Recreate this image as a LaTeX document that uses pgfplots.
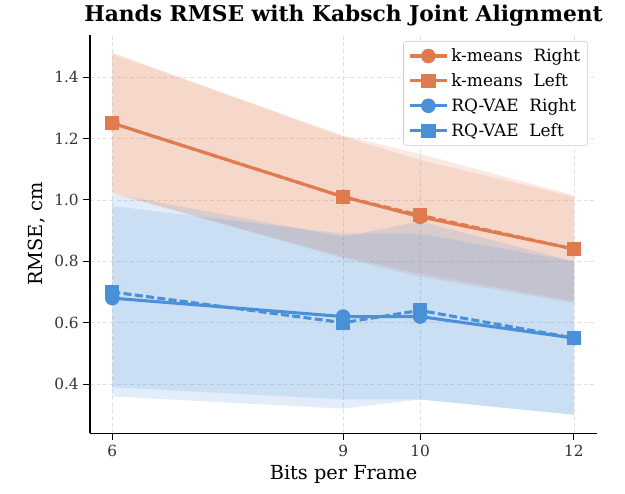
\documentclass[border=0pt]{standalone}
\usepackage{fontspec}
\setmainfont{DejaVu Serif}
\usepackage{pgfplots}
\usepackage{pgfplotstable}
\pgfplotsset{compat=1.18}
\usepgfplotslibrary{fillbetween}
\definecolor{korange}{HTML}{E07A4F}
\definecolor{kblue}{HTML}{4A90D9}

% x mean lo hi
\pgfplotstableread{
x mean lo hi
6 1.25 1.02 1.48
9 1.01 0.815 1.205
10 0.945 0.76 1.13
12 0.84 0.67 1.01
}\kmR
\pgfplotstableread{
x mean lo hi
6 1.25 1.025 1.475
9 1.01 0.81 1.21
10 0.95 0.75 1.15
12 0.84 0.665 1.015
}\kmL
\pgfplotstableread{
x mean lo hi
6 0.68 0.39 0.98
9 0.62 0.35 0.89
10 0.62 0.35 0.89
12 0.55 0.30 0.80
}\rqR
\pgfplotstableread{
x mean lo hi
6 0.70 0.36 1.02
9 0.60 0.32 0.88
10 0.64 0.35 0.93
12 0.55 0.30 0.80
}\rqL

\begin{document}
\begin{tikzpicture}
\begin{axis}[
  name=ax,
  scale only axis,
  width=380pt, height=298.5pt,
  xmin=5.71, xmax=12.3, ymin=0.24, ymax=1.537,
  axis x line*=bottom, axis y line*=left,
  axis line style={-, line width=0.9pt},
  tick align=outside, major tick length=5pt,
  tick style={black, line width=0.7pt},
  xtick={6,9,10,12},
  ytick={0.4,0.6,0.8,1.0,1.2,1.4},
  yticklabel style={/pgf/number format/fixed, /pgf/number format/precision=1, /pgf/number format/fixed zerofill},
  /pgf/number format/assume math mode=true,
  ticklabel style={font=\fontsize{11.5}{13}\selectfont, text=black!80},
  grid=major, grid style={densely dashed, black!12, line width=0.5pt},
  xlabel={Bits per Frame}, ylabel={RMSE, cm},
  label style={font=\fontsize{14.5}{16}\selectfont},
  title={\bfseries Hands RMSE with Kabsch Joint Alignment},
  title style={font=\fontsize{16.3}{18}\selectfont, yshift=-3pt},
  legend style={at={(0.982,0.985)}, anchor=north east, draw=black!20, rounded corners=2pt,
    font=\fontsize{12.7}{14}\selectfont, row sep=3.5pt, inner sep=3.5pt},
  legend cell align=left,
  legend image code/.code={\draw[solid, mark repeat=2, mark phase=2] plot coordinates {(0pt,0pt) (14pt,0pt) (28pt,0pt)};},
  clip=false,
]
% bands
\addplot[name path=a1, draw=none, forget plot] table[x=x, y=hi] {\kmR};
\addplot[name path=a2, draw=none, forget plot] table[x=x, y=lo] {\kmR};
\addplot[korange, fill opacity=0.16, draw=none, forget plot] fill between[of=a1 and a2];
\addplot[name path=b1, draw=none, forget plot] table[x=x, y=hi] {\kmL};
\addplot[name path=b2, draw=none, forget plot] table[x=x, y=lo] {\kmL};
\addplot[korange, fill opacity=0.16, draw=none, forget plot] fill between[of=b1 and b2];
\addplot[name path=c1, draw=none, forget plot] table[x=x, y=hi] {\rqR};
\addplot[name path=c2, draw=none, forget plot] table[x=x, y=lo] {\rqR};
\addplot[kblue, fill opacity=0.16, draw=none, forget plot] fill between[of=c1 and c2];
\addplot[name path=d1, draw=none, forget plot] table[x=x, y=hi] {\rqL};
\addplot[name path=d2, draw=none, forget plot] table[x=x, y=lo] {\rqL};
\addplot[kblue, fill opacity=0.16, draw=none, forget plot] fill between[of=d1 and d2];
% means
\addplot[korange, line width=2.3pt, mark=*, mark size=4.3pt] table[x=x, y=mean] {\kmR};
\addlegendentry{k-means\ \ Right}
\addplot[korange, line width=2.3pt, dash pattern=on 6pt off 2.5pt, mark=square*, mark size=4.2pt, mark options={solid}] table[x=x, y=mean] {\kmL};
\addlegendentry{k-means\ \ Left}
\addplot[kblue, line width=2.3pt, mark=*, mark size=4.3pt] table[x=x, y=mean] {\rqR};
\addlegendentry{RQ-VAE\ \ Right}
\addplot[kblue, line width=2.3pt, dash pattern=on 6pt off 2.5pt, mark=square*, mark size=4.2pt, mark options={solid}] table[x=x, y=mean] {\rqL};
\addlegendentry{RQ-VAE\ \ Left}
\end{axis}
\pgfresetboundingbox
\path[use as bounding box] ([shift={(-67.5pt,-45pt)}]ax.south west) rectangle ([shift={(21pt,26.25pt)}]ax.north east);
\end{tikzpicture}
\end{document}
